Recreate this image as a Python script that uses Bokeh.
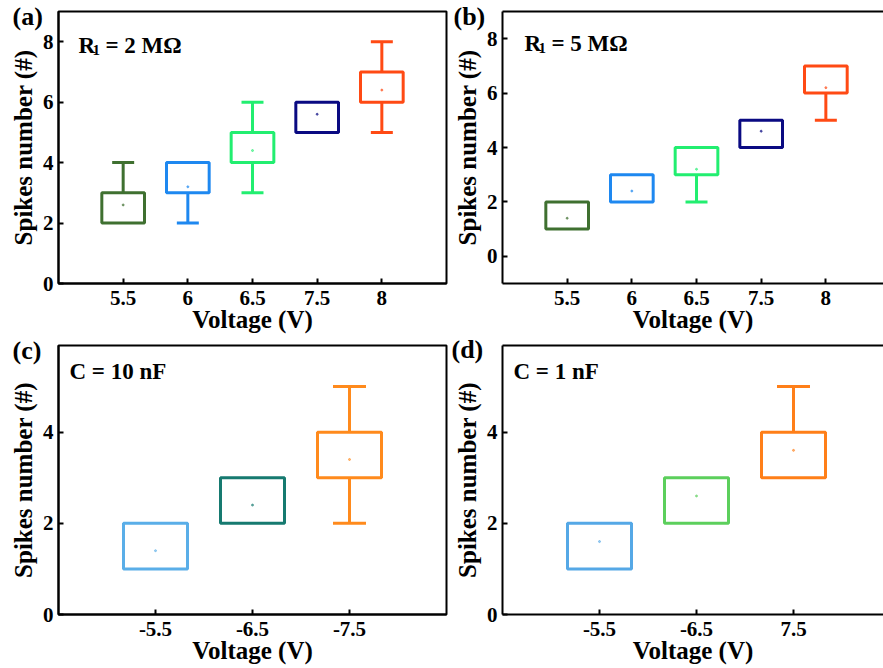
from bokeh.plotting import figure
from bokeh.models import Range1d, FixedTicker, Label, LinearAxis
from bokeh.layouts import column, row
from bokeh.embed import file_html
from bokeh.resources import INLINE

FONT = "Liberation Serif"

# ---------------- data ----------------
a_labels = ["5.5", "6", "6.5", "7.5", "8"]
a_q1 = [2, 3, 4, 5, 6]
a_q3 = [3, 4, 5, 6, 7]
a_lo = [2, 2, 3, 5, 5]
a_hi = [4, 4, 6, 6, 8]
a_mean = [2.6, 3.2, 4.4, 5.6, 6.4]
a_colors = ["#3f7030", "#1e88f0", "#22ee70", "#0a0a82", "#ff4a14"]

b_labels = ["5.5", "6", "6.5", "7.5", "8"]
b_q1 = [1, 2, 3, 4, 6]
b_q3 = [2, 3, 4, 5, 7]
b_lo = [1, 2, 2, 4, 5]
b_hi = [2, 3, 4, 5, 7]
b_mean = [1.4, 2.4, 3.2, 4.6, 6.2]
b_colors = ["#3f7030", "#1e88f0", "#22ee70", "#0a0a82", "#ff4a14"]

c_labels = ["-5.5", "-6.5", "-7.5"]
c_q1 = [1, 2, 3]
c_q3 = [2, 3, 4]
c_lo = [1, 2, 2]
c_hi = [2, 3, 5]
c_mean = [1.4, 2.4, 3.4]
c_colors = ["#5aaee8", "#167a70", "#ff8a1c"]

d_labels = ["-5.5", "-6.5", "7.5"]
d_q1 = [1, 2, 3]
d_q3 = [2, 3, 4]
d_lo = [1, 2, 3]
d_hi = [2, 3, 5]
d_mean = [1.6, 2.6, 3.6]
d_colors = ["#55a8e6", "#5ccf5c", "#ff7f18"]

BOX_HALF = 0.33
CAP_HALF = 0.17


def panel(labels, q1, q3, lo, hi, mean, colors, xmax, yr, yticks,
          fw, fh, borders, tag, tag_offset, tag_standoff, ann_parts, open_right=False):
    n = len(labels)
    xs = list(range(1, n + 1))
    p = figure(frame_width=fw, frame_height=fh,
               x_range=Range1d(0, xmax), y_range=Range1d(*yr),
               output_backend="svg", toolbar_location=None,
               min_border_left=borders[0], min_border_right=borders[1],
               min_border_top=borders[2], min_border_bottom=borders[3],
               background_fill_color="white", border_fill_color="white")
    p.xgrid.grid_line_color = None
    p.ygrid.grid_line_color = None

    # boxes
    p.quad(left=[x - BOX_HALF for x in xs], right=[x + BOX_HALF for x in xs],
           bottom=q1, top=q3, fill_color=None, line_color=colors, line_width=3)
    # whiskers
    lw = [(x, l, b, c) for x, l, b, c in zip(xs, lo, q1, colors) if l < b]
    if lw:
        p.segment(x0=[w[0] for w in lw], y0=[w[1] for w in lw],
                  x1=[w[0] for w in lw], y1=[w[2] for w in lw],
                  line_color=[w[3] for w in lw], line_width=3)
        p.segment(x0=[w[0] - CAP_HALF for w in lw], y0=[w[1] for w in lw],
                  x1=[w[0] + CAP_HALF for w in lw], y1=[w[1] for w in lw],
                  line_color=[w[3] for w in lw], line_width=3)
    uw = [(x, h, t, c) for x, h, t, c in zip(xs, hi, q3, colors) if h > t]
    if uw:
        p.segment(x0=[w[0] for w in uw], y0=[w[2] for w in uw],
                  x1=[w[0] for w in uw], y1=[w[1] for w in uw],
                  line_color=[w[3] for w in uw], line_width=3)
        p.segment(x0=[w[0] - CAP_HALF for w in uw], y0=[w[1] for w in uw],
                  x1=[w[0] + CAP_HALF for w in uw], y1=[w[1] for w in uw],
                  line_color=[w[3] for w in uw], line_width=3)
    # mean markers
    p.scatter(x=xs, y=mean, size=2, color=colors, alpha=0.6)

    # axes
    xa = p.below[0]
    ya = p.left[0]
    xa.ticker = FixedTicker(ticks=xs)
    xa.major_label_overrides = {x: l for x, l in zip(xs, labels)}
    ya.ticker = FixedTicker(ticks=yticks)
    xa.axis_label = "Voltage (V)"
    ya.axis_label = "Spikes number (#)"
    for ax in (xa, ya):
        ax.axis_line_width = 2
        ax.axis_line_color = "black"
        ax.major_tick_line_width = 2
        ax.major_tick_line_color = "black"
        ax.major_tick_in = 5
        ax.major_tick_out = 0
        ax.minor_tick_in = 0
        ax.minor_tick_out = 0
        ax.major_label_text_font = FONT
        ax.major_label_text_font_style = "bold"
        ax.major_label_text_font_size = "21px"
        ax.major_label_text_color = "black"
        ax.axis_label_text_font = FONT
        ax.axis_label_text_font_style = "bold"
        ax.axis_label_text_font_size = "25px"
        ax.axis_label_text_color = "black"
    xa.major_label_standoff = 7
    xa.axis_label_standoff = -2
    ya.major_label_standoff = 5
    ya.axis_label_standoff = 3

    if open_right:
        p.outline_line_color = None
        top = LinearAxis(ticker=FixedTicker(ticks=[]), axis_line_width=2,
                         axis_line_color="black", major_tick_in=0, major_tick_out=0,
                         minor_tick_in=0, minor_tick_out=0,
                         major_label_text_font_size="0px")
        p.add_layout(top, "above")
    else:
        p.outline_line_color = "black"
        p.outline_line_width = 2
        p.outline_line_alpha = 1

    # panel tag, drawn as the figure title pulled down beside the frame
    t = p.title
    t.text = tag
    t.align = "left"
    t.vertical_align = "bottom"
    t.offset = tag_offset
    t.standoff = tag_standoff
    t.text_font = FONT
    t.text_font_style = "bold"
    t.text_font_size = "26px"
    t.text_color = "black"

    y0, y1 = yr

    def px(dx, dy):
        return dx * xmax / fw, y1 - dy * (y1 - y0) / fh

    for dx, dy, txt, size in ann_parts:
        x, y = px(dx, dy)
        p.add_layout(Label(x=x, y=y, text=txt, text_font=FONT, text_font_style="bold",
                           text_font_size=size, text_baseline="alphabetic",
                           text_color="black"))
    return p


pa = panel(a_labels, a_q1, a_q3, a_lo, a_hi, a_mean, a_colors, 6.0, (0, 9), [0, 2, 4, 6, 8],
           388, 272, (58, 4, 11, 47), "(a)", -46, -38,
           [(20, 34, "R", "23px"), (34, 38, "1", "15px"), (47, 34, "= 2 MΩ", "23px")])
pb = panel(b_labels, b_q1, b_q3, b_lo, b_hi, b_mean, b_colors, 381 / 64.67, (-1, 9),
           [0, 2, 4, 6, 8], 381, 272, (51, 1, 11, 47), "(b)", -49, -38,
           [(22, 32, "R", "23px"), (36, 36, "1", "15px"), (49, 32, "= 5 MΩ", "23px")],
           open_right=True)
pc = panel(c_labels, c_q1, c_q3, c_lo, c_hi, c_mean, c_colors, 4.0, (0, 5.9), [0, 2, 4],
           388, 269, (58, 4, 10, 56), "(c)", -46, -38,
           [(11, 26, "C = 10 nF", "23px")])
pd = panel(d_labels, d_q1, d_q3, d_lo, d_hi, d_mean, d_colors, 381 / 97.0, (0, 5.9),
           [0, 2, 4], 381, 269, (51, 1, 10, 56), "(d)", -51, -37,
           [(11, 26, "C = 1 nF", "23px")],
           open_right=True)

layout = column(row(pa, pb), row(pc, pd))
open("out.html", "w").write(file_html(layout, INLINE))
